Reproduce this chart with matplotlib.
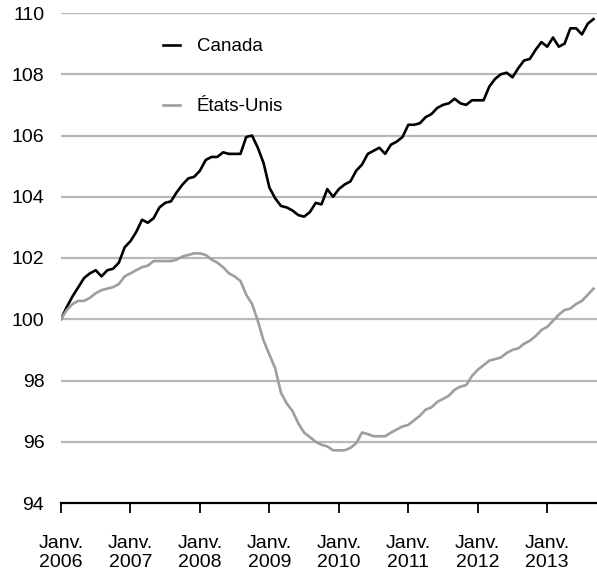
import matplotlib.pyplot as plt
import numpy as np

# monthly index values, Jan 2006 = 100 (Jan 2006 .. Sep 2013)
canada = [100.0, 100.4, 100.75, 101.05, 101.35, 101.5, 101.6, 101.4, 101.6, 101.65,
          101.85, 102.35, 102.55, 102.85, 103.25, 103.15, 103.3, 103.65, 103.8, 103.85,
          104.15, 104.4, 104.6, 104.65, 104.85, 105.2, 105.3, 105.3, 105.45, 105.4,
          105.4, 105.4, 105.95, 106.0, 105.6, 105.1, 104.3, 103.95, 103.7, 103.65,
          103.55, 103.4, 103.35, 103.5, 103.8, 103.75, 104.25, 104.0, 104.25, 104.4,
          104.5, 104.85, 105.05, 105.4, 105.5, 105.6, 105.4, 105.7, 105.8, 105.95,
          106.35, 106.35, 106.4, 106.6, 106.7, 106.9, 107.0, 107.05, 107.2, 107.05,
          107.0, 107.15, 107.15, 107.15, 107.6, 107.85, 108.0, 108.05, 107.9, 108.2,
          108.45, 108.5, 108.8, 109.05, 108.9, 109.2, 108.9, 109.0, 109.5, 109.5,
          109.3, 109.65, 109.8]

etats_unis = [100.0, 100.3, 100.5, 100.6, 100.6, 100.7, 100.85, 100.95, 101.0, 101.05,
              101.15, 101.4, 101.5, 101.6, 101.7, 101.75, 101.9, 101.9, 101.9, 101.9,
              101.95, 102.05, 102.1, 102.15, 102.15, 102.1, 101.95, 101.85, 101.7, 101.5,
              101.4, 101.25, 100.8, 100.5, 99.95, 99.3, 98.85, 98.4, 97.6, 97.25,
              97.0, 96.6, 96.3, 96.15, 96.0, 95.9, 95.85, 95.72, 95.72, 95.72,
              95.8, 95.95, 96.3, 96.25, 96.18, 96.18, 96.18, 96.3, 96.4, 96.5,
              96.55, 96.7, 96.85, 97.05, 97.12, 97.3, 97.4, 97.5, 97.7, 97.8,
              97.85, 98.15, 98.35, 98.5, 98.65, 98.7, 98.75, 98.9, 99.0, 99.05,
              99.2, 99.3, 99.45, 99.65, 99.75, 99.95, 100.15, 100.3, 100.35, 100.5,
              100.6, 100.8, 101.0]

years = ['2006', '2007', '2008', '2009', '2010', '2011', '2012', '2013']
tick_labels = ['Janv.\n' + y for y in years]
yticks = [94, 96, 98, 100, 102, 104, 106, 108, 110]

plt.rcParams['font.family'] = ['Liberation Sans', 'DejaVu Sans']

fig = plt.figure(figsize=(5.97, 5.77), dpi=100)
ax = fig.add_axes([61 / 597, 74 / 577, 536 / 597, 490 / 577])

months = np.arange(len(canada))
ax.plot(months, canada, color='black', lw=1.9, label='Canada', zorder=3)
ax.plot(months, etats_unis, color='#9e9e9e', lw=1.9, label='États-Unis', zorder=3)

ax.set_xlim(0, 92.6)
ax.set_ylim(94, 110)
ax.set_yticks(yticks)
ax.set_xticks(np.arange(len(years)) * 12)
ax.set_xticklabels(tick_labels, fontsize=14, linespacing=1.15)
ax.tick_params(axis='y', length=0, pad=12, labelsize=14)
ax.tick_params(axis='x', length=7, width=1.3, direction='out', pad=16, color='black')

for v in yticks[1:]:
    ax.axhline(v, color='#b8b8b8', lw=1.6, zorder=1)

for s in ['top', 'right', 'left']:
    ax.spines[s].set_visible(False)
ax.spines['bottom'].set_linewidth(1.6)

ax.legend(loc='upper left', bbox_to_anchor=(0.19, 0.949), frameon=False,
          fontsize=13.5, handlelength=0.9, handletextpad=0.9, labelspacing=2.3,
          borderpad=0, borderaxespad=0)

fig.savefig('out.png', dpi=100)
